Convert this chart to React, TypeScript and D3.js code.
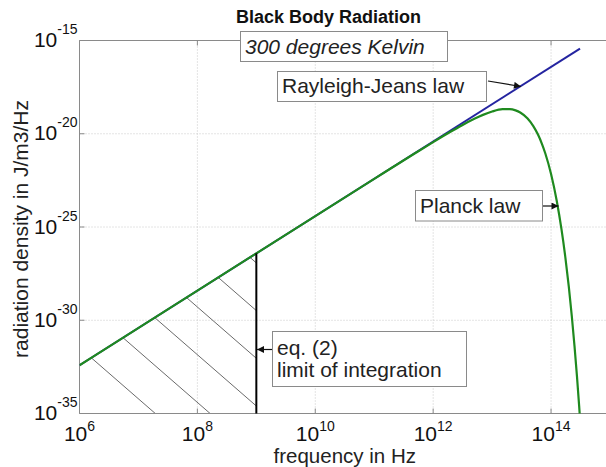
import React from "react";
import * as d3 from "d3";

// ---- data ----
const xTicks = [1e6, 1e8, 1e10, 1e12, 1e14];
const xTickExp = ["6", "8", "10", "12", "14"];
const yTicks = [1e-35, 1e-30, 1e-25, 1e-20, 1e-15];
const yTickExp = ["-35", "-30", "-25", "-20", "-15"];
const xGrid = [1e8, 1e10, 1e12, 1e14];
const yGrid = [1e-30, 1e-25, 1e-20];

const rjFreq = [1e6, 3.1e14];
const rjDensity = [3.86e-33, 3.7e-16];

const planckFreq = [
  1e6, 1e9, 1e11, 5e11, 1e12, 2e12, 3e12, 5e12, 7e12, 1e13, 1.5e13, 2e13, 2.5e13, 3e13,
  4e13, 5e13, 6e13, 7e13, 8e13, 1e14, 1.25e14, 1.5e14, 1.75e14, 2e14, 2.25e14, 2.5e14,
  2.75e14, 3e14, 3.2e14,
];
const planckDensity = [
  3.86e-33, 3.86e-27, 3.83e-23, 9.29e-22, 3.56e-21, 1.31e-20, 2.71e-20, 6.31e-20, 1.03e-19,
  1.56e-19, 2.08e-19, 2.1e-19, 1.8e-19, 1.39e-19, 6.59e-20, 2.59e-20, 9.06e-21, 2.9e-21,
  8.77e-22, 6.98e-23, 2.5e-24, 7.91e-26, 2.3e-27, 6.3e-29, 1.64e-30, 4.13e-32, 1.01e-33,
  2.39e-35, 1.19e-36,
];

const limitFreq = 1e9;
const limitDensity = 3.86e-27;

const title = "Black Body Radiation";
const xLabel = "frequency in Hz";
const yLabel = "radiation density in J/m3/Hz";

// ---- layout ----
const W = 606;
const H = 467;
const L = 79.5;
const R = 610;
const T = 40.5;
const B = 413.5;

const FONT = "'Liberation Sans', Arial, Helvetica, sans-serif";
const TXT = "#222";

export default function App() {
  const x = d3.scaleLog().domain([1e6, 1e15]).range([L, R]);
  const y = d3.scaleLog().domain([1e-35, 1e-15]).range([B, T]);

  const line = d3
    .line<[number, number]>()
    .x((d) => x(d[0]))
    .y((d) => y(d[1]))
    .curve(d3.curveMonotoneX);

  const rjPts = rjFreq.map((f, i) => [f, rjDensity[i]] as [number, number]);
  const plPts = planckFreq.map((f, i) => [f, planckDensity[i]] as [number, number]);

  const xl = x(limitFreq);
  const yl = y(limitDensity);
  const x0 = x(planckFreq[0]);
  const y0 = y(planckDensity[0]);
  const hatchPoly = `M${x0},${y0}L${xl},${yl}L${xl},${B}L${x0},${B}Z`;

  const slope = 0.87;
  const hatch: { x1: number; y1: number; x2: number; y2: number }[] = [];
  for (let k = -2; k < 8; k++) {
    const ya = B - 7.5 - k * 47.7;
    const xa = xl;
    hatch.push({ x1: xa - 300, y1: ya - slope * 300, x2: xa + 60, y2: ya + slope * 60 });
  }

  return (
    <svg
      width={W}
      height={H}
      style={{ position: "absolute", left: 0, top: 0, background: "#fff" }}
      fontFamily={FONT}
    >
      <defs>
        <clipPath id="plot">
          <rect x={L} y={T} width={R - L} height={B - T} />
        </clipPath>
        <clipPath id="hatch">
          <path d={hatchPoly} />
        </clipPath>
        <marker
          id="arr"
          viewBox="0 0 10 10"
          refX="10"
          refY="5"
          markerWidth="9"
          markerHeight="7"
          markerUnits="userSpaceOnUse"
          orient="auto"
        >
          <path d="M0,0L10,5L0,10Z" fill="#111" />
        </marker>
      </defs>
      <rect x={0} y={0} width={W} height={H} fill="#fff" />

      {/* grid */}
      {xGrid.map((g) => (
        <line
          key={"xg" + g}
          x1={x(g)}
          x2={x(g)}
          y1={T}
          y2={B}
          stroke="#c8c8c8"
          strokeDasharray="1,2"
        />
      ))}
      {yGrid.map((g) => (
        <line
          key={"yg" + g}
          x1={L}
          x2={R}
          y1={y(g)}
          y2={y(g)}
          stroke="#c8c8c8"
          strokeDasharray="1,2"
        />
      ))}

      {/* hatch */}
      <g clipPath="url(#hatch)">
        {hatch.map((h, i) => (
          <line key={i} x1={h.x1} y1={h.y1} x2={h.x2} y2={h.y2} stroke="#6a6a6a" strokeWidth={1} />
        ))}
      </g>

      {/* axes box */}
      <path
        d={`M${L},${T}L${R},${T}L${R},${B}L${L},${B}Z`}
        fill="none"
        stroke="#8a8a8a"
        strokeWidth={1}
      />
      {xTicks.map((t) => (
        <g key={"xt" + t}>
          <line x1={x(t)} x2={x(t)} y1={B} y2={B - 5} stroke="#8a8a8a" />
          <line x1={x(t)} x2={x(t)} y1={T} y2={T + 5} stroke="#8a8a8a" />
        </g>
      ))}
      {yTicks.map((t) => (
        <line key={"yt" + t} x1={L} x2={L + 5} y1={y(t)} y2={y(t)} stroke="#8a8a8a" />
      ))}

      {/* curves */}
      <g clipPath="url(#plot)">
        <path d={line(rjPts) || ""} fill="none" stroke="#2424a0" strokeWidth={2} />
        <path d={line(plPts) || ""} fill="none" stroke="#1f8a1f" strokeWidth={2.2} />
      </g>

      {/* limit of integration */}
      <line x1={xl} x2={xl} y1={yl} y2={B} stroke="#000" strokeWidth={2} />

      {/* tick labels */}
      {xTicks.map((t, i) => (
        <text key={"xl" + t} x={x(t)} y={440.5} textAnchor="middle" fill="#111">
          <tspan fontSize={21}>10</tspan>
          <tspan fontSize={14} dy={-10}>
            {xTickExp[i]}
          </tspan>
        </text>
      ))}
      {yTicks.map((t, i) => (
        <text key={"yl" + t} x={77.5} y={y(t) + 6.5} textAnchor="end" fill="#111">
          <tspan fontSize={21}>10</tspan>
          <tspan fontSize={14} dy={-13}>
            {yTickExp[i]}
          </tspan>
        </text>
      ))}

      {/* axis labels */}
      <text x={(L + R) / 2} y={462.5} textAnchor="middle" fontSize={20.5} fill={TXT}>
        {xLabel}
      </text>
      <text
        transform={`translate(28,${(T + B) / 2 + 2}) rotate(-90)`}
        textAnchor="middle"
        fontSize={21}
        fill={TXT}
      >
        {yLabel}
      </text>

      {/* title */}
      <text x={328.5} y={23} textAnchor="middle" fontSize={18} fontWeight="bold" fill="#111">
        {title}
      </text>

      {/* annotation boxes */}
      <rect x={240.5} y={31.5} width={207} height={30} fill="#fff" stroke="#8a8a8a" />
      <text x={245} y={54} fontSize={21} fontStyle="italic" fill={TXT}>
        300 degrees Kelvin
      </text>

      <rect x={277.5} y={71.5} width={209} height={30} fill="#fff" stroke="#8a8a8a" />
      <text x={282} y={93} fontSize={21} fill={TXT}>
        Rayleigh-Jeans law
      </text>
      <line x1={488} y1={81} x2={521} y2={86.5} stroke="#111" strokeWidth={1.2} markerEnd="url(#arr)" />

      <rect x={415.5} y={190.5} width={127} height={30.5} fill="#fff" stroke="#8a8a8a" />
      <text x={420} y={213} fontSize={21} fill={TXT}>
        Planck law
      </text>
      <line x1={543} y1={206} x2={558.5} y2={206} stroke="#111" strokeWidth={1.2} markerEnd="url(#arr)" />

      <rect x={272.5} y={331.5} width={194} height={55} fill="#fff" stroke="#8a8a8a" />
      <text x={277} y={355} fontSize={21} fill={TXT}>
        eq. (2)
      </text>
      <text x={277} y={377} fontSize={21} fill={TXT}>
        limit of integration
      </text>
      <line x1={272} y1={349.5} x2={257} y2={349.5} stroke="#111" strokeWidth={1.2} markerEnd="url(#arr)" />
    </svg>
  );
}
